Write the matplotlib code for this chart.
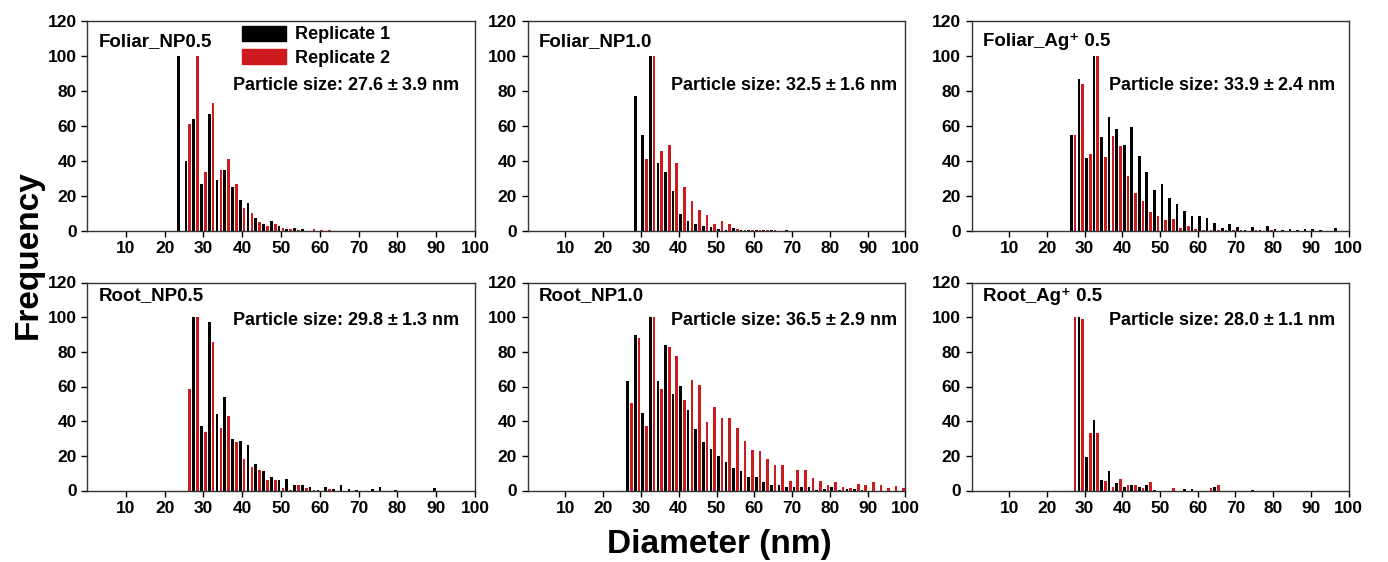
import numpy as np
import matplotlib
matplotlib.use("Agg")
import matplotlib.pyplot as plt
from matplotlib.patches import Patch

plt.rcParams['font.family'] = ['Liberation Sans', 'DejaVu Sans']
plt.rcParams['font.weight'] = 'bold'
plt.rcParams['mathtext.fontset'] = 'custom'
plt.rcParams['mathtext.rm'] = 'Liberation Sans:bold'
plt.rcParams['mathtext.bf'] = 'Liberation Sans:bold'
plt.rcParams['mathtext.default'] = 'bf'

# histograms, 2 nm bins; first bin centre given per panel
foliar_np05_start = 24
foliar_np05_rep1 = [100, 40, 64, 27, 67, 29, 35, 25, 18, 16, 7.5, 4, 5.5, 3, 1, 1.5, 1, 0, 0, 0]
foliar_np05_rep2 = [0, 61, 100, 34, 73, 35, 41, 27, 13, 10.5, 5, 3, 4, 2, 1, 0.5, 0, 1, 0.5, 0.5]

foliar_np10_start = 29
foliar_np10_rep1 = [77, 55, 100, 39, 33.5, 23, 9.6, 5.6, 4.2, 3, 2.3, 1.1, 0.5, 1.7, 0.8, 0.6, 0.5, 0.4, 0.3, 0, 0.3]
foliar_np10_rep2 = [0, 41, 100, 46, 49, 39, 25, 17, 12, 9, 4.2, 5.6, 3.8, 1.3, 0.3, 0.3, 0.5, 0.4, 0.5, 0, 0]

foliar_ag05_start = 27
foliar_ag05_rep1 = [55, 87, 42, 100, 54, 65, 58.4, 49.4, 59.4, 43, 34, 23.4, 27, 18.6, 15.7, 11.3,
                    8.6, 8.6, 7.5, 4.8, 1.7, 3.8, 2.3, 0.4, 2.3, 0.5, 2.7, 1, 0.5, 1.1, 0.5, 1, 1, 0.8, 0, 1.5]
foliar_ag05_rep2 = [54.6, 84, 44, 100, 42.5, 54.4, 48.7, 31.4, 22, 17.2, 11, 8.6, 6.5, 6.7, 1.9, 2.7,
                    1, 0.8, 0.8, 0.3, 0.3, 0.6, 0.3, 0, 0.5, 0, 0.3, 0, 0, 0, 0, 0, 0, 0, 0, 0]

root_np05_start = 26
root_np05_rep1 = [0, 100, 37.5, 97, 44, 54.2, 29.6, 28.3, 26.3, 15.2, 11, 7.7, 5.8, 6.5, 3.3, 2.9, 2.1,
                  0.3, 2.3, 1, 3, 1, 0.5, 0, 1, 2, 0, 0.5, 0, 0, 0, 0, 1.5]
root_np05_rep2 = [58.7, 100, 33.5, 85.8, 36.3, 42.7, 27.9, 18.3, 13.8, 11.9, 5.8, 5.8, 1.2, 0.5, 2.9, 1.3,
                  0.5, 0, 0.6, 0, 0, 0, 0, 0, 0, 0, 0, 0, 0, 0, 0, 0, 0]

root_np10_start = 27
root_np10_rep1 = [63, 89.5, 45, 100, 63.4, 84, 55.4, 60.3, 46.4, 35.2, 27.8, 24, 20.1, 16.3, 12.8, 11.5,
                  7.7, 7.7, 4.8, 3.1, 3.1, 2.3, 1.9, 1.9, 2.3, 0.5, 1, 1.9, 0.5, 0.8, 0.6, 0.3, 0, 0, 0, 0, 0]
root_np10_rep2 = [50.2, 88, 37.4, 100, 58.8, 82.8, 77.4, 52.5, 64, 60.7, 39.3, 47.9, 41.6, 42, 35.8, 28.5,
                  23.4, 22.8, 18.2, 14.8, 14.8, 5.6, 11.9, 11.9, 7.1, 5.6, 3.1, 5, 2.3, 1.7, 4, 3.3, 4.8,
                  2.9, 1.3, 2.7, 1.5]

root_ag05_start = 27
root_ag05_rep1 = [0, 100, 19.5, 40.6, 6.1, 11.5, 4.2, 2.1, 2.9, 2.1, 2.9, 0.5, 0, 0, 0, 0.8, 0.8, 0, 0,
                  2.1, 0, 0, 0, 0, 0.5]
root_ag05_rep2 = [100, 98.7, 33, 33, 5.7, 1.9, 6.7, 2.9, 2.9, 1.7, 5, 0, 0, 1.7, 0, 0, 0, 0, 1.5,
                  2.9, 0, 0, 0, 0, 0]

panels = [
    ("Foliar_NP0.5", "Particle size: 27.6 $\\pm$ 3.9 nm", foliar_np05_start, foliar_np05_rep1, foliar_np05_rep2),
    ("Foliar_NP1.0", "Particle size: 32.5 $\\pm$ 1.6 nm", foliar_np10_start, foliar_np10_rep1, foliar_np10_rep2),
    ("Foliar_Ag\u207a 0.5", "Particle size: 33.9 $\\pm$ 2.4 nm", foliar_ag05_start, foliar_ag05_rep1, foliar_ag05_rep2),
    ("Root_NP0.5", "Particle size: 29.8 $\\pm$ 1.3 nm", root_np05_start, root_np05_rep1, root_np05_rep2),
    ("Root_NP1.0", "Particle size: 36.5 $\\pm$ 2.9 nm", root_np10_start, root_np10_rep1, root_np10_rep2),
    ("Root_Ag\u207a 0.5", "Particle size: 28.0 $\\pm$ 1.1 nm", root_ag05_start, root_ag05_rep1, root_ag05_rep2),
]

RED = '#cc1a1e'
W, H = 1388, 562
fig = plt.figure(figsize=(W / 100, H / 100), dpi=100)

col_px = [(87, 475), (527.5, 905.5), (971.5, 1348.5)]
row_px = [(21, 231), (282.5, 490.5)]
title_y = [0.90, 0.935]
info_y = [0.695, 0.815]
info_x = [0.374, 0.376, 0.362]

for i, (name, info, start, rep1, rep2) in enumerate(panels):
    r, c = divmod(i, 3)
    x0, x1 = col_px[c]
    y0, y1 = row_px[r]
    ax = fig.add_axes([x0 / W, 1 - y1 / H, (x1 - x0) / W, (y1 - y0) / H])
    bins = start + 2 * np.arange(len(rep1))
    ax.bar(bins - 0.5, rep1, width=0.7, color='black', linewidth=0)
    ax.bar(bins + 0.5, rep2, width=0.7, color=RED, linewidth=0)
    ax.set_xlim(0, 100)
    ax.set_ylim(0, 120)
    ax.set_xticks(range(10, 101, 10))
    ax.set_yticks(range(0, 121, 20))
    ax.tick_params(labelsize=12.5, length=4, width=1, direction='out')
    for lab in ax.get_xticklabels() + ax.get_yticklabels():
        lab.set_fontweight('bold')
    for s in ax.spines.values():
        s.set_color('#333333')
        s.set_linewidth(1)
    ax.text(0.03, title_y[r], name, transform=ax.transAxes, fontsize=13.5,
            fontweight='bold', va='center', ha='left')
    ax.text(info_x[c], info_y[r], info, transform=ax.transAxes, fontsize=13,
            fontweight='bold', va='center', ha='left')
    if i == 0:
        handles = [Patch(color='black', label='Replicate 1'),
                   Patch(color=RED, label='Replicate 2')]
        ax.legend(handles=handles, loc='upper left', bbox_to_anchor=(0.375, 1.025),
                  frameon=False, borderpad=0.05, handlelength=2.4,
                  handleheight=0.9, handletextpad=0.5, labelspacing=0.3,
                  prop={'weight': 'bold', 'size': 13})

fig.text(28 / W, 1 - 255 / H, 'Frequency', rotation=90, fontsize=24,
         fontweight='bold', ha='center', va='center')
fig.text(719 / W, 1 - 545 / H, 'Diameter (nm)', fontsize=24,
         fontweight='bold', ha='center', va='center')

fig.savefig('out.png', dpi=100)
